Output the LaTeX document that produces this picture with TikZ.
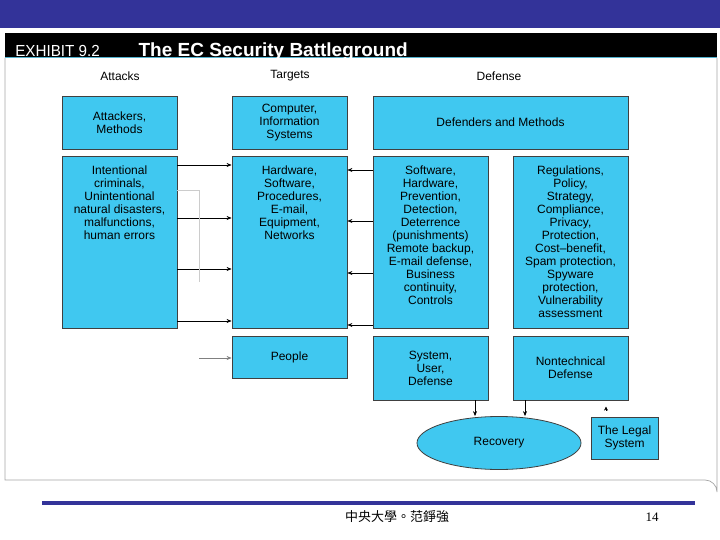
\documentclass[tikz,border=0pt]{standalone}
\usepackage{fontspec}
\setmainfont{Liberation Sans}
\newfontfamily\cjk{Noto Sans CJK TC}
\newfontfamily\tms{Liberation Serif}
\usetikzlibrary{shapes.geometric,arrows.meta}
\definecolor{navy}{HTML}{333399}
\definecolor{cy}{HTML}{40C8F0}
\begin{document}
\begin{tikzpicture}[x=1pt,y=-1pt,
  tf/.style={font=\fontsize{12}{13}\selectfont},
  bx/.style={draw=black!75,fill=cy,line width=0.8pt,align=center,inner sep=0pt,tf},
  tx/.style={anchor=north,align=center,tf},
  ar/.style={-{Stealth[length=5pt,width=4pt]},line width=0.6pt},
  hd/.style={tf}]
\useasboundingbox (0,0) rectangle (720,540);
\fill[navy] (0,0) rectangle (720,28);
\draw[gray!70,line width=0.7pt,fill=white] (5,58) -- (5,480) -- (705,480) arc[start angle=270,end angle=360,radius=12] -- (717,58);
\fill[black] (5,33) rectangle (717,58);
\draw[cy!70!gray,line width=1pt] (5,58) -- (717,58);
\node[anchor=base west,text=white,font=\fontsize{16}{16}\selectfont,xscale=0.95] (ex) at (12,57) {EXHIBIT 9.2};
\node[anchor=base west,text=white,font=\fontsize{19}{20}\selectfont\bfseries] (ti) at (135,57) {The EC Security Battleground};
\node[hd] (h1) at (120,76) {Attacks};
\node[hd] (h2) at (290,76) {Targets};
\node[hd] (h3) at (499,76) {Defense};
% boxes
\node[bx,minimum width=115,minimum height=53] (a1) at (119.5,122.5) {Attackers,\\Methods};
\node[bx,minimum width=115,minimum height=172,anchor=north] (a2) at (119.5,156) {};
\node[tx] (a2t) at (119.5,162) {Intentional\\criminals,\\Unintentional\\natural disasters,\\malfunctions,\\human errors};
\node[bx,minimum width=115,minimum height=53] (t1) at (289.5,122.5) {Computer,\\Information\\Systems};
\node[bx,minimum width=115,minimum height=172,anchor=north] (t2) at (289.5,156) {};
\node[tx] (t2t) at (289.5,162) {Hardware,\\Software,\\Procedures,\\E-mail,\\Equipment,\\Networks};
\node[bx,minimum width=115,minimum height=42] (t3) at (289.5,357) {People};
\node[bx,minimum width=255,minimum height=53] (d1) at (500.5,122.5) {Defenders and Methods};
\node[bx,minimum width=115,minimum height=172,anchor=north] (d2) at (430.5,156) {};
\node[tx] (d2t) at (430.5,162) {Software,\\Hardware,\\Prevention,\\Detection,\\Deterrence\\(punishments)\\Remote backup,\\E-mail defense,\\Business\\continuity,\\Controls};
\node[bx,minimum width=115,minimum height=172,anchor=north] (d3) at (570.5,156) {};
\node[tx] (d3t) at (570.5,162) {Regulations,\\Policy,\\Strategy,\\Compliance,\\Privacy,\\Protection,\\Cost--benefit,\\Spam protection,\\Spyware\\protection,\\Vulnerability\\assessment};
\node[bx,minimum width=115,minimum height=64] (d4) at (430.5,368) {System,\\User,\\Defense};
\node[bx,minimum width=115,minimum height=64] (d5) at (570.5,368) {Nontechnical\\Defense};
\node[bx,minimum width=67,minimum height=42] (lg) at (624.5,438) {The Legal\\System};
\node[bx,ellipse,minimum width=164,minimum height=53] (rc) at (499,443) {Recovery};
% arrows
\foreach \y in {165,218,269,321} \draw[ar] (a2.east|-0,\y) -- (t2.west|-0,\y);
\foreach \y in {170,221,273,325} \draw[ar] (d2.west|-0,\y) -- (t2.east|-0,\y);
\coordinate (pp) at (199,358);
\draw[ar,gray] (pp) -- (t3.west|-pp);
\coordinate (g1) at (199,190); \coordinate (g2) at (199,282);
\draw[gray!40,line width=0.6pt] (a2.east|-g1) -- (g1) -- (g2);
\draw[ar] (d4.south-|475,0) -- (rc.north-|475,0);
\draw[ar] (d5.south-|525,0) -- (rc.north-|525,0);
\draw[-{Stealth[length=4pt,width=4pt]},line width=0.5pt] (lg.north-|606,0) ++(0,-6) -- ++(0,-4);
% footer
\draw[navy,line width=4pt] (42,503) -- (695,503);
\node[font=\fontsize{13}{14}\selectfont\cjk] (ft) at (397,517) {中央大學。范錚強};
\node[font=\fontsize{13}{14}\selectfont\tms] (pg) at (652,517) {14};
\end{tikzpicture}
\end{document}
